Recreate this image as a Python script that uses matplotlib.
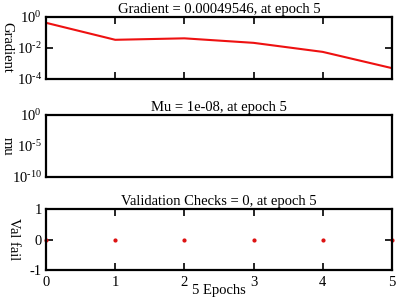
import matplotlib
matplotlib.use("Agg")
import matplotlib.pyplot as plt

plt.rcParams["font.family"] = ["Liberation Serif", "DejaVu Serif"]
plt.rcParams["mathtext.fontset"] = "custom"
plt.rcParams["mathtext.rm"] = "Liberation Serif"
plt.rcParams["mathtext.it"] = "Liberation Serif:italic"
plt.rcParams["mathtext.default"] = "rm"
plt.rcParams["font.size"] = 10.5

# Data
epochs = [0, 1, 2, 3, 4, 5]
gradient = [0.41, 0.033, 0.041, 0.021, 0.0055, 0.00049546]
val_fail = [0, 0, 0, 0, 0, 0]
grad_title = "Gradient = 0.00049546, at epoch 5"
mu_title = "Mu = 1e-08, at epoch 5"
val_title = "Validation Checks = 0, at epoch 5"
x_ticks = [0, 1, 2, 3, 4, 5]

fig = plt.figure(figsize=(3.97, 3.0), dpi=100)
ax1 = fig.add_axes([0.116, 0.737, 0.871, 0.207])
ax2 = fig.add_axes([0.116, 0.41, 0.871, 0.207])
ax3 = fig.add_axes([0.116, 0.10, 0.871, 0.203])

for ax in (ax1, ax2, ax3):
    for s in ax.spines.values():
        s.set_linewidth(1.6)
    ax.set_xlim(0, 5)
    ax.tick_params(direction="in", length=5, width=1.2, top=True, right=True, pad=3)

# Gradient
ax1.semilogy(epochs, gradient, color="#ee1111", lw=1.5)
ax1.set_ylim(1e-4, 1)
ax1.set_yticks([1e-4, 1e-2, 1])
ax1.set_yticklabels([r"$10^{\text{-}4}$", r"$10^{\text{-}2}$", r"$10^{0}$"])
ax1.minorticks_off()
ax1.set_xticks(x_ticks)
ax1.set_xticklabels([])
ax1.set_ylabel("Gradient", rotation=270, va="center")
ax1.yaxis.set_label_coords(-0.113, 0.5)
ax1.set_title(grad_title, fontsize=10.5, pad=3)

# Mu (no line visible)
ax2.set_yscale("log")
ax2.set_ylim(1e-10, 1)
ax2.set_yticks([1e-10, 1e-5, 1])
ax2.set_yticklabels([r"$10^{\text{-}10}$", r"$10^{\text{-}5}$", r"$10^{0}$"])
ax2.minorticks_off()
ax2.set_xticks([])
ax2.tick_params(axis="y", length=0)
ax2.set_ylabel("mu", rotation=270, va="center")
ax2.yaxis.set_label_coords(-0.113, 0.5)
ax2.set_title(mu_title, fontsize=10.5, pad=3)

# Validation checks
ax3.plot(epochs, val_fail, ls="none", marker="o", ms=2, color="#dd1111", clip_on=False)
ax3.set_ylim(-1, 1)
ax3.set_yticks([-1, 0, 1])
ax3.set_yticklabels(["-1", "0", "1"])
ax3.set_xticks(x_ticks)
ax3.tick_params(axis="x", pad=4)
ax3.set_xlabel("5 Epochs", labelpad=-3)
ax3.set_ylabel("Val fail", rotation=270, va="center")
ax3.yaxis.set_label_coords(-0.095, 0.5)
ax3.set_title(val_title, fontsize=10.5, pad=3)

fig.savefig("out.png", dpi=100)
